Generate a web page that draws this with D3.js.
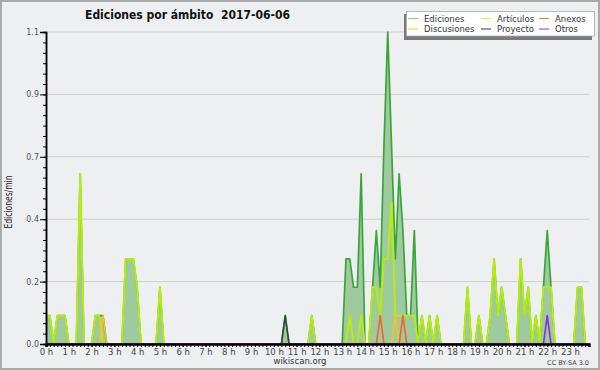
<!DOCTYPE html>
<html lang="es">
<head>
    <meta charset="UTF-8">
    <title>Ediciones por ámbito</title>
    <script src="https://cdn.jsdelivr.net/npm/d3@7"></script>
    <style>
        body{margin:0;background:#fff;}
        text{font-family:"DejaVu Sans",sans-serif;}
    </style>
</head>
<body>
    <script>
             // 10-minute bins, 0h..24h (144 values), edits per minute
             var ediciones=[
                   0.1,0.1,0,0.1,0.1,0.1,0,0,0,0.6,0,0, 0,0.1,0.1,0.1,0,0,0,0,0,0.3,0.3,0.3,
                   0.2,0,0,0,0,0,0.2,0,0,0,0,0, 0,0,0,0,0,0,0,0,0,0,0,0,
                   0,0,0,0,0,0,0,0,0,0,0,0, 0,0,0,0.1,0,0,0,0,0,0,0.1,0,
                   0,0,0,0,0,0,0,0.3,0.3,0.2,0.2,0.6, 0,0,0.2,0.4,0.2,0.7,1.1,0.7,0.3,0.6,0.4,0.1,
                   0.1,0.4,0,0.1,0,0.1,0,0.1,0,0,0,0, 0,0,0,0.2,0,0,0.1,0,0,0.1,0.3,0.1,
                   0.2,0.1,0,0,0,0.3,0.1,0.2,0,0.1,0,0.2, 0.4,0.2,0,0,0,0,0,0,0.2,0.2,0,0
             ];
             var articulos=[
                   0.1,0.1,0,0.1,0.1,0.1,0,0,0,0.6,0,0, 0,0.1,0.1,0,0,0,0,0,0,0.3,0.3,0.3,
                   0.2,0,0,0,0,0,0.2,0,0,0,0,0, 0,0,0,0,0,0,0,0,0,0,0,0,
                   0,0,0,0,0,0,0,0,0,0,0,0, 0,0,0,0,0,0,0,0,0,0,0.1,0,
                   0,0,0,0,0,0,0,0,0.1,0,0,0.1, 0,0,0.2,0.2,0.1,0.3,0.3,0.5,0.1,0.1,0.1,0.1,
                   0.1,0.1,0,0.1,0,0.1,0,0.1,0,0,0,0, 0,0,0,0.2,0,0,0.1,0,0,0.1,0.3,0.1,
                   0.2,0.1,0,0,0,0.3,0.1,0.2,0,0.1,0,0.2, 0.2,0.2,0,0,0,0,0,0,0.2,0.2,0,0
             ];
             var discusiones=[
                   0,0,0,0,0,0,0,0,0,0,0,0, 0,0,0,0.1,0,0,0,0,0,0,0,0,
                   0,0,0,0,0,0,0,0,0,0,0,0, 0,0,0,0,0,0,0,0,0,0,0,0,
                   0,0,0,0,0,0,0,0,0,0,0,0, 0,0,0,0,0,0,0,0,0,0,0,0,
                   0,0,0,0,0,0,0,0,0,0,0,0, 0,0,0,0,0,0,0,0,0.1,0,0,0,
                   0,0,0,0,0,0,0,0,0,0,0,0, 0,0,0,0,0,0,0,0,0,0,0,0,
                   0,0,0,0,0,0,0,0,0,0,0,0, 0,0,0,0,0,0,0,0,0,0,0,0
             ];
             var anexos=[
                   0,0,0,0,0,0,0,0,0,0,0,0, 0,0,0,0,0,0,0,0,0,0,0,0,
                   0,0,0,0,0,0,0,0,0,0,0,0, 0,0,0,0,0,0,0,0,0,0,0,0,
                   0,0,0,0,0,0,0,0,0,0,0,0, 0,0,0,0,0,0,0,0,0,0,0,0,
                   0,0,0,0,0,0,0,0,0,0,0,0, 0,0,0,0,0.1,0,0,0,0,0,0.1,0,
                   0,0,0,0,0,0,0,0,0,0,0,0, 0,0,0,0,0,0,0,0,0,0,0,0,
                   0,0,0,0,0,0,0,0,0,0,0,0, 0,0,0,0,0,0,0,0,0,0,0,0
             ];
             var proyecto=[
                   0,0,0,0,0,0,0,0,0,0,0,0, 0,0,0,0,0,0,0,0,0,0,0,0,
                   0,0,0,0,0,0,0,0,0,0,0,0, 0,0,0,0,0,0,0,0,0,0,0,0,
                   0,0,0,0,0,0,0,0,0,0,0,0, 0,0,0,0.1,0,0,0,0,0,0,0,0,
                   0,0,0,0,0,0,0,0,0,0,0,0, 0,0,0,0,0,0,0,0,0,0,0,0,
                   0,0,0,0,0,0,0,0,0,0,0,0, 0,0,0,0,0,0,0,0,0,0,0,0,
                   0,0,0,0,0,0,0,0,0,0,0,0, 0,0,0,0,0,0,0,0,0,0,0,0
             ];
             var otros=[
                   0,0,0,0,0,0,0,0,0,0,0,0, 0,0,0,0,0,0,0,0,0,0,0,0,
                   0,0,0,0,0,0,0,0,0,0,0,0, 0,0,0,0,0,0,0,0,0,0,0,0,
                   0,0,0,0,0,0,0,0,0,0,0,0, 0,0,0,0,0,0,0,0,0,0,0,0,
                   0,0,0,0,0,0,0,0,0,0,0,0, 0,0,0,0,0,0,0,0,0,0,0,0,
                   0,0,0,0,0,0,0,0,0,0,0,0, 0,0,0,0,0,0,0,0,0,0,0,0,
                   0,0,0,0,0,0,0,0,0,0,0,0, 0.1,0,0,0,0,0,0,0,0,0,0,0
             ];
             var hourLabels=d3.range(24).map(function(h){return h+" h";});
             var yTickValues=[0,0.22,0.44,0.66,0.88,1.1];
             var seriesNames=["Ediciones","Artículos","Anexos","Discusiones","Proyecto","Otros"];

             var width=600,height=370;
             var plot={left:46,right:589,top:32,bottom:344};
             var colors={
                   "Ediciones":"#3aa63a",
                   "Artículos":"#b8ec10",
                   "Anexos":"#f26522",
                   "Discusiones":"#f7c21e",
                   "Proyecto":"#34473a",
                   "Otros":"#8a2be2"
             };
             var widths={"Ediciones":1.7,"Artículos":2,"Anexos":1.6,"Discusiones":1.6,"Proyecto":1.6,"Otros":1.6};
             var legendColors={
                   "Ediciones":"#88cc88",
                   "Artículos":"#ccee66",
                   "Anexos":"#f08050",
                   "Discusiones":"#f8d050",
                   "Proyecto":"#555555",
                   "Otros":"#9955ee"
             };

             var svg=d3.select("body").append("svg").attr("width",width).attr("height",height);
             svg.append("rect").attr("x",1).attr("y",1).attr("width",width-2).attr("height",height-2)
                     .attr("fill","#eeeff1").attr("stroke","#aaaaaa").attr("stroke-width",2);

             var x=d3.scaleLinear().domain([0,ediciones.length-1]).range([plot.left,plot.right]);
             var y=d3.scaleLinear().domain([0,1.1]).range([plot.bottom,plot.top]);

             //grid
             svg.append("g").selectAll("line").data(yTickValues.slice(1)).enter().append("line")
                     .attr("x1",plot.left).attr("x2",plot.right)
                     .attr("y1",function(d){return y(d);}).attr("y2",function(d){return y(d);})
                     .attr("stroke","#cfcfcf").attr("stroke-width",1);

             //area of total edits
             var area=d3.area().x(function(d,i){return x(i);}).y0(y(0)).y1(function(d){return y(d);});
             svg.append("path").datum(ediciones).attr("d",area).attr("fill","#9fc99f");

             var line=d3.line().x(function(d,i){return x(i);}).y(function(d){return y(d);});
             var drawOrder=[["Ediciones",ediciones],["Artículos",articulos],["Proyecto",proyecto],
                            ["Discusiones",discusiones],["Anexos",anexos],["Otros",otros]];
             drawOrder.forEach(function(s){
                   svg.append("path").datum(s[1]).attr("d",line)
                           .attr("fill","none").attr("stroke",colors[s[0]])
                           .attr("stroke-width",widths[s[0]]).attr("stroke-linejoin","round");
             });

             //x axis
             var xMinor=d3.axisBottom(x).tickValues(d3.range(ediciones.length)).tickSize(3).tickFormat("");
             var gxm=svg.append("g").attr("transform","translate(0,"+plot.bottom+")").call(xMinor);
             var xAxis=d3.axisBottom(x).tickValues(d3.range(0,144,6)).tickSize(3)
                     .tickFormat(function(d){return hourLabels[d/6];});
             var gx=svg.append("g").attr("transform","translate(0,"+plot.bottom+")").call(xAxis);
             gx.selectAll("text").attr("font-size",8.5).attr("fill","#444").attr("dy","0.6em")
                     .attr("font-family","DejaVu Sans");
             [gxm,gx].forEach(function(g){
                   g.select(".domain").attr("stroke","#000").attr("stroke-width",2);
                   g.selectAll(".tick line").attr("stroke","#000");
             });

             //y axis
             var yMinor=d3.axisLeft(y).tickValues(d3.range(31).map(function(k){return k*1.1/30;}))
                     .tickSize(3).tickFormat("");
             var gym=svg.append("g").attr("transform","translate("+plot.left+",0)").call(yMinor);
             var yAxis=d3.axisLeft(y).tickValues(yTickValues).tickSize(6).tickFormat(d3.format(".1f"));
             var gy=svg.append("g").attr("transform","translate("+plot.left+",0)").call(yAxis);
             gy.selectAll("text").attr("font-size",8).attr("fill","#555").attr("x",-7)
                     .attr("font-family","DejaVu Sans");
             [gym,gy].forEach(function(g){
                   g.select(".domain").attr("stroke","#000").attr("stroke-width",1.5);
                   g.selectAll(".tick line").attr("stroke","#000");
             });

             //titles
             svg.append("text").attr("x",85).attr("y",18.5).attr("font-size",12.5).attr("font-weight","bold")
                     .attr("fill","#111").attr("textLength",205).attr("lengthAdjust","spacingAndGlyphs")
                     .attr("xml:space","preserve").text("Ediciones por ámbito  2017-06-06");
             svg.append("text").attr("transform","translate(12,202) rotate(-90)").attr("text-anchor","middle")
                     .attr("font-size",11).attr("fill","#222").attr("font-family","DejaVu Sans Mono")
                     .attr("textLength",53).attr("lengthAdjust","spacingAndGlyphs").text("Ediciones/min");
             svg.append("text").attr("x",300).attr("y",364).attr("text-anchor","middle")
                     .attr("font-size",8.5).attr("fill","#333").text("wikiscan.org");
             svg.append("text").attr("x",589).attr("y",365).attr("text-anchor","end")
                     .attr("font-size",6.5).attr("fill","#444").text("CC BY-SA 3.0");

             //legend
             svg.append("rect").attr("x",404).attr("y",14).attr("width",188).attr("height",26).attr("fill","#7a7a7a");
             svg.append("rect").attr("x",406.5).attr("y",11.5).attr("width",188).attr("height",24.5)
                     .attr("fill","#ffffff").attr("stroke","#aaaaaa").attr("stroke-width",0.8);
             var legendPos=[[408,18.5],[481,18.5],[539,18.5],[408,29],[481,29],[539,29]];
             seriesNames.forEach(function(name,i){
                   var p=legendPos[i];
                   svg.append("line").attr("x1",p[0]).attr("x2",p[0]+10).attr("y1",p[1]).attr("y2",p[1])
                           .attr("stroke",legendColors[name]).attr("stroke-width",1.2);
                   svg.append("text").attr("x",p[0]+16).attr("y",p[1]+3).attr("font-size",8.5)
                           .attr("fill","#333").text(name);
             });
    </script>
</body>
</html>
